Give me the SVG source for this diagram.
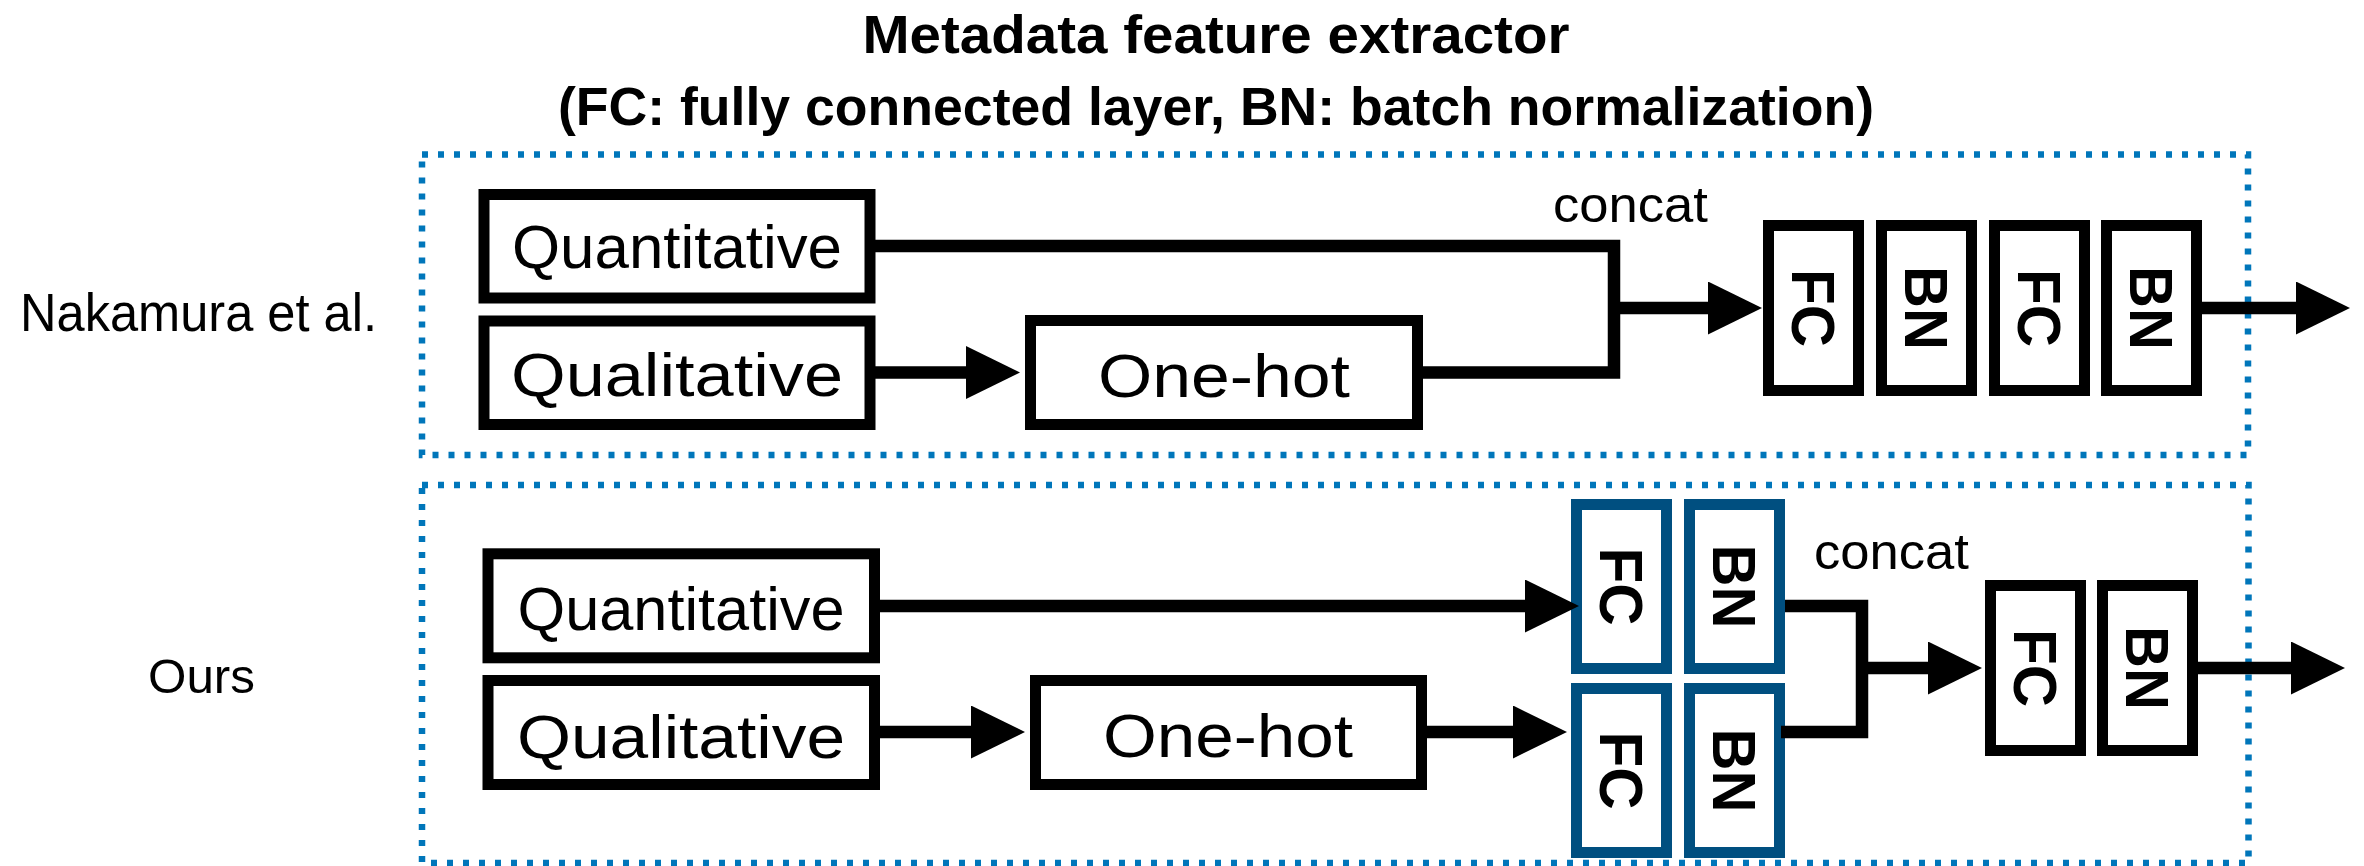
<svg xmlns="http://www.w3.org/2000/svg" width="2364" height="866" viewBox="0 0 2364 866">
<style>
.bg{fill:#ffffff}
.frame{fill:none;stroke:#0076ba;stroke-width:6.5;stroke-dasharray:6 10}
.box{fill:#ffffff;stroke:#000000;stroke-width:11}
.bbox{fill:#ffffff;stroke:#004f80;stroke-width:11}
.lbl{font-family:"Liberation Sans",Arial,sans-serif;font-size:62px;fill:#000000;text-anchor:middle}
.vl{font-family:"Liberation Sans",Arial,sans-serif;font-size:62px;font-weight:bold;fill:#000000;text-anchor:middle}
.title{font-family:"Liberation Sans",Arial,sans-serif;font-size:54px;font-weight:bold;fill:#000000;text-anchor:middle}
.side{font-family:"Liberation Sans",Arial,sans-serif;fill:#000000}
.conn{fill:none;stroke:#000000;stroke-width:12.5;stroke-linejoin:miter}
</style>
<defs>
<marker id="ah" markerUnits="userSpaceOnUse" markerWidth="54" markerHeight="54" refX="0" refY="26.5" orient="auto">
<path d="M0,0 L54,26.5 L0,53 Z" fill="#000000"/>
</marker>
</defs>
<rect class="bg" x="0" y="0" width="2364" height="866"/>
<g id="titles">
<text class="title" x="1216" y="53" textLength="707" lengthAdjust="spacingAndGlyphs">Metadata feature extractor</text>
<text class="title" x="1216" y="125" textLength="1316" lengthAdjust="spacingAndGlyphs">(FC: fully connected layer, BN: batch normalization)</text>
</g>
<g id="frames">
<rect class="frame" x="422" y="154.5" width="1826" height="300.5"/>
<rect class="frame" x="422" y="485" width="1826.5" height="378"/>
</g>
<g id="row-labels">
<text class="side" x="20" y="331" font-size="54" textLength="357" lengthAdjust="spacingAndGlyphs">Nakamura et al.</text>
<text class="side" x="148" y="693" font-size="48" textLength="107" lengthAdjust="spacingAndGlyphs">Ours</text>
<text class="side" x="1553" y="222" font-size="50" textLength="155" lengthAdjust="spacingAndGlyphs">concat</text>
<text class="side" x="1814" y="569" font-size="50" textLength="155" lengthAdjust="spacingAndGlyphs">concat</text>
</g>
<g id="n-quant-top"><rect class="box" x="484" y="194.5" width="386" height="103.5"/><text class="lbl" x="677" y="268" textLength="330" lengthAdjust="spacingAndGlyphs">Quantitative</text></g>
<g id="n-qual-top"><rect class="box" x="484" y="321" width="386" height="103.5"/><text class="lbl" x="677" y="396" textLength="332" lengthAdjust="spacingAndGlyphs">Qualitative</text></g>
<g id="n-onehot-top"><rect class="box" x="1030.5" y="320.5" width="387" height="104"/><text class="lbl" x="1224" y="397" font-size="64" textLength="252" lengthAdjust="spacingAndGlyphs">One-hot</text></g>
<g id="n-fc1-top"><rect class="box" x="1768.5" y="225.5" width="90" height="165"/><text class="vl" transform="translate(1813.5,308) rotate(90)" x="0" y="22" textLength="78" lengthAdjust="spacingAndGlyphs">FC</text></g>
<g id="n-bn1-top"><rect class="box" x="1881.5" y="225.5" width="90" height="165"/><text class="vl" transform="translate(1926.5,308) rotate(90)" x="0" y="22" textLength="84" lengthAdjust="spacingAndGlyphs">BN</text></g>
<g id="n-fc2-top"><rect class="box" x="1994.5" y="225.5" width="90" height="165"/><text class="vl" transform="translate(2039.5,308) rotate(90)" x="0" y="22" textLength="78" lengthAdjust="spacingAndGlyphs">FC</text></g>
<g id="n-bn2-top"><rect class="box" x="2106.5" y="225.5" width="90" height="165"/><text class="vl" transform="translate(2151.5,308) rotate(90)" x="0" y="22" textLength="84" lengthAdjust="spacingAndGlyphs">BN</text></g>
<g id="n-quant-bot"><rect class="box" x="488" y="553.8" width="386.5" height="104"/><text class="lbl" x="681" y="630" textLength="327" lengthAdjust="spacingAndGlyphs">Quantitative</text></g>
<g id="n-qual-bot"><rect class="box" x="488" y="680.5" width="386.5" height="104"/><text class="lbl" x="681" y="758" textLength="328" lengthAdjust="spacingAndGlyphs">Qualitative</text></g>
<g id="n-onehot-bot"><rect class="box" x="1035.5" y="680.5" width="386" height="104"/><text class="lbl" x="1228" y="757" font-size="64" textLength="250" lengthAdjust="spacingAndGlyphs">One-hot</text></g>
<g id="n-fc-a"><rect class="bbox" x="1576.5" y="504.5" width="90" height="164"/><text class="vl" transform="translate(1621.5,586.5) rotate(90)" x="0" y="22" textLength="78" lengthAdjust="spacingAndGlyphs">FC</text></g>
<g id="n-bn-a"><rect class="bbox" x="1689.5" y="504.5" width="90" height="164"/><text class="vl" transform="translate(1734.5,586.5) rotate(90)" x="0" y="22" textLength="84" lengthAdjust="spacingAndGlyphs">BN</text></g>
<g id="n-fc-b"><rect class="bbox" x="1576.5" y="688.5" width="90" height="164"/><text class="vl" transform="translate(1621.5,770.5) rotate(90)" x="0" y="22" textLength="78" lengthAdjust="spacingAndGlyphs">FC</text></g>
<g id="n-bn-b"><rect class="bbox" x="1689.5" y="688.5" width="90" height="164"/><text class="vl" transform="translate(1734.5,770.5) rotate(90)" x="0" y="22" textLength="84" lengthAdjust="spacingAndGlyphs">BN</text></g>
<g id="n-fc-bot"><rect class="box" x="1990.5" y="585.5" width="90" height="165"/><text class="vl" transform="translate(2035.5,668) rotate(90)" x="0" y="22" textLength="78" lengthAdjust="spacingAndGlyphs">FC</text></g>
<g id="n-bn-bot"><rect class="box" x="2102.5" y="585.5" width="90" height="165"/><text class="vl" transform="translate(2147.5,668) rotate(90)" x="0" y="22" textLength="84" lengthAdjust="spacingAndGlyphs">BN</text></g>
<g id="connectors">
<path class="conn" d="M875,246 H1614 V372.5 H1423"/>
<line class="conn" x1="1614" y1="308" x2="1708" y2="308" marker-end="url(#ah)"/>
<line class="conn" x1="875" y1="372.5" x2="966" y2="372.5" marker-end="url(#ah)"/>
<line class="conn" x1="2202" y1="308" x2="2296" y2="308" marker-end="url(#ah)"/>
<line class="conn" x1="879" y1="606" x2="1525" y2="606" marker-end="url(#ah)"/>
<line class="conn" x1="879" y1="732" x2="971" y2="732" marker-end="url(#ah)"/>
<line class="conn" x1="1426" y1="732" x2="1513" y2="732" marker-end="url(#ah)"/>
<path class="conn" d="M1785,606 H1862 V732 H1781"/>
<line class="conn" x1="1862" y1="668" x2="1928" y2="668" marker-end="url(#ah)"/>
<line class="conn" x1="2197" y1="668" x2="2291" y2="668" marker-end="url(#ah)"/>
</g>
</svg>
